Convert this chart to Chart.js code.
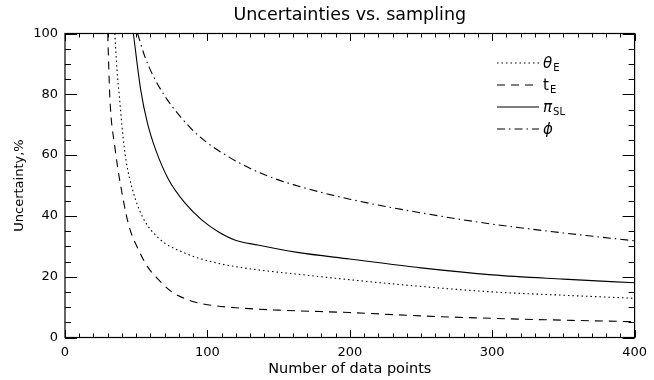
<!DOCTYPE html>
<html>
<head>
<meta charset="utf-8">
<script src="https://cdn.jsdelivr.net/npm/chart.js@4/dist/chart.umd.min.js"></script>
<style>
  body { margin: 0; background: #fff; }
  #wrap { position: relative; width: 654px; height: 380px; }
  #legend { position: absolute; left: 497px; top: 52px; font-family: "DejaVu Sans", sans-serif; color: #000; }
  #legend .row { height: 22px; display: flex; align-items: center; }
  #legend svg { width: 42px; height: 10px; margin-right: 4px; }
  #legend .sym { font-size: 15px; font-style: italic; }
  #legend sub { font-size: 10px; font-style: normal; position: relative; top: 4px; margin-left: 1px; }
</style>
</head>
<body>
<div id="wrap">
  <canvas id="chart" width="654" height="380"></canvas>
  <div id="legend">
    <div class="row"><svg><line x1="0" y1="5" x2="42" y2="5" stroke="#000" stroke-width="1.2" stroke-dasharray="1.5 3"/></svg><span class="sym">θ</span><sub>E</sub></div>
    <div class="row"><svg><line x1="0" y1="5" x2="42" y2="5" stroke="#000" stroke-width="1.2" stroke-dasharray="8 6"/></svg><span class="sym" style="font-style:normal">t</span><sub>E</sub></div>
    <div class="row"><svg><line x1="0" y1="5" x2="42" y2="5" stroke="#000" stroke-width="1.2"/></svg><span class="sym">π</span><sub>SL</sub></div>
    <div class="row"><svg><line x1="0" y1="5" x2="42" y2="5" stroke="#000" stroke-width="1.2" stroke-dasharray="8 4 1.5 4"/></svg><span class="sym">ϕ</span></div>
  </div>
</div>
<script>
// --- DATA ---
const thetaX = [35, 36.5, 38.2, 40.5, 42.8, 47.5, 54.4, 66, 84.5, 107.6, 133, 160, 200, 250, 300, 350, 400];
const thetaY = [100, 88, 79.2, 67.2, 58.4, 48.5, 39.7, 32.6, 27.7, 24.4, 22.4, 21.0, 19.0, 16.8, 15.0, 13.9, 12.9];

const tEX = [30, 31.5, 35, 40.5, 45.1, 52, 57.9, 64, 75, 87, 100, 120, 150, 200, 250, 300, 350, 400];
const tEY = [100, 79, 62.7, 46.3, 36.4, 28.5, 23.3, 19.9, 15.0, 12.3, 10.8, 9.8, 9.0, 8.2, 7.1, 6.3, 5.7, 5.2];

const piX = [48, 53.2, 57.9, 63.7, 72.9, 84.5, 96, 107.6, 119.2, 135.4, 163.2, 200, 250, 300, 350, 400];
const piY = [100, 81.4, 70.5, 61.7, 51.8, 44.1, 38.7, 34.8, 32.1, 30.4, 28.0, 25.8, 22.9, 20.6, 19.2, 18.0];

const phiX = [51, 56, 62, 70, 80, 94, 114.6, 137.7, 160.9, 200, 250, 300, 350, 400];
const phiY = [100, 92.5, 86, 79.5, 73.2, 66.3, 59.5, 54.0, 50.2, 45.5, 41, 37.3, 34.4, 31.8];

const xTicks = [0, 100, 200, 300, 400];
const yTicks = [0, 20, 40, 60, 80, 100];

const toPoints = (xs, ys) => xs.map((x, i) => ({ x: x, y: ys[i] }));
const font = "'DejaVu Sans', sans-serif";

// frame + inward ticks on all four sides, like the original plot
const framePlugin = {
  id: 'frame',
  afterDatasetsDraw(chart) {
    const { ctx, chartArea: a, scales: { x, y } } = chart;
    ctx.save();
    ctx.strokeStyle = '#000';
    ctx.lineWidth = 1.2;
    ctx.strokeRect(a.left, a.top, a.right - a.left, a.bottom - a.top);
    ctx.lineWidth = 1;
    ctx.beginPath();
    for (let v = 0; v <= 400; v += 10) {
      const px = Math.round(x.getPixelForValue(v)) + 0.5;
      const len = v % 100 === 0 ? 7.5 : 4;
      ctx.moveTo(px, a.bottom); ctx.lineTo(px, a.bottom - len);
      ctx.moveTo(px, a.top); ctx.lineTo(px, a.top + len);
    }
    for (let v = 0; v <= 100; v += 5) {
      const py = Math.round(y.getPixelForValue(v)) + 0.5;
      const len = v % 20 === 0 ? 12 : 6;
      ctx.moveTo(a.left, py); ctx.lineTo(a.left + len, py);
      ctx.moveTo(a.right, py); ctx.lineTo(a.right - len, py);
    }
    ctx.stroke();
    ctx.restore();
  }
};

const lineBase = { borderColor: '#000', borderWidth: 1.1, pointRadius: 0, fill: false, cubicInterpolationMode: 'monotone' };

new Chart(document.getElementById('chart'), {
  type: 'line',
  data: {
    datasets: [
      { ...lineBase, label: 'θE', data: toPoints(thetaX, thetaY), borderDash: [1.5, 3] },
      { ...lineBase, label: 'tE', data: toPoints(tEX, tEY), borderDash: [8, 6] },
      { ...lineBase, label: 'πSL', data: toPoints(piX, piY) },
      { ...lineBase, label: 'ϕ', data: toPoints(phiX, phiY), borderDash: [8, 4, 1.5, 4] }
    ]
  },
  options: {
    responsive: false,
    animation: false,
    layout: { padding: { left: 0, right: 13, top: 0, bottom: 0 } },
    plugins: {
      legend: { display: false },
      tooltip: { enabled: false },
      title: {
        display: true,
        fullSize: false,
        text: 'Uncertainties vs. sampling',
        color: '#000',
        font: { family: font, size: 17.5, weight: 'normal' },
        padding: { top: 5, bottom: 7.5 }
      }
    },
    scales: {
      x: {
        type: 'linear', min: 0, max: 400,
        afterBuildTicks: s => { s.ticks = xTicks.map(v => ({ value: v })); },
        afterFit: s => { s.height = 42.5; },
        grid: { display: false, drawTicks: false },
        border: { display: false },
        ticks: { color: '#000', padding: 7, maxRotation: 0, font: { family: font, size: 13 } },
        title: { display: true, text: 'Number of data points', color: '#000', padding: { top: 0, bottom: 2 }, font: { family: font, size: 14.5 } }
      },
      y: {
        min: 0, max: 100,
        afterBuildTicks: s => { s.ticks = yTicks.map(v => ({ value: v })); },
        afterFit: s => { s.width = 65; },
        grid: { display: false, drawTicks: false },
        border: { display: false },
        ticks: { color: '#000', padding: 7, font: { family: font, size: 13 } },
        title: { display: true, text: 'Uncertainty,%', color: '#000', padding: { top: 12, bottom: 0 }, font: { family: font, size: 13 } }
      }
    }
  },
  plugins: [framePlugin]
});
</script>
</body>
</html>
